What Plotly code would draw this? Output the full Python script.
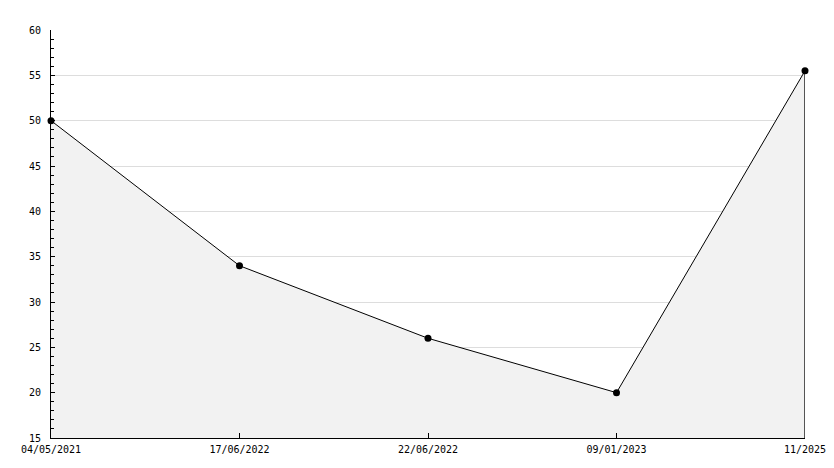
import plotly.graph_objects as go

dates = ["04/05/2021", "17/06/2022", "22/06/2022", "09/01/2023", "11/2025"]
values = [50, 34, 26, 20, 55.5]
y_min, y_max = 15, 60

fig = go.Figure()
fig.add_trace(go.Scatter(
    x=dates, y=values, mode="lines+markers",
    line=dict(color="black", width=1),
    marker=dict(color="black", size=7, symbol="circle"),
    fill="tozeroy", fillcolor="#f2f2f2",
    hoverinfo="x+y",
    cliponaxis=False,
))
# right edge of the filled area
fig.add_trace(go.Scatter(
    x=[dates[-1], dates[-1]], y=[values[-1], y_min], mode="lines",
    line=dict(color="black", width=1.3), hoverinfo="skip",
))

fig.update_layout(
    width=834, height=468,
    margin=dict(l=51, r=29, t=30, b=30),
    plot_bgcolor="white", paper_bgcolor="white",
    showlegend=False,
    font=dict(family="DejaVu Sans Mono", size=10, color="black"),
)
fig.update_xaxes(
    type="category", range=[0, len(dates) - 1],
    showgrid=False, zeroline=False, automargin=False,
    showline=True, linecolor="black", linewidth=1,
    ticks="inside", ticklen=5, tickcolor="black",
    ticklabelstandoff=2,
)
fig.update_yaxes(
    range=[y_min, y_max], dtick=5, tick0=0,
    showgrid=True, gridcolor="#dddddd", gridwidth=1,
    zeroline=False, automargin=False,
    showline=True, linecolor="black", linewidth=1,
    ticks="inside", ticklen=4, tickcolor="black",
    minor=dict(dtick=1, ticks="inside", ticklen=3, tickcolor="black", showgrid=False),
    ticklabelstandoff=7,
)
fig.write_html("out.html", post_script="document.body.style.margin='0';",
               config={"displayModeBar": False})
